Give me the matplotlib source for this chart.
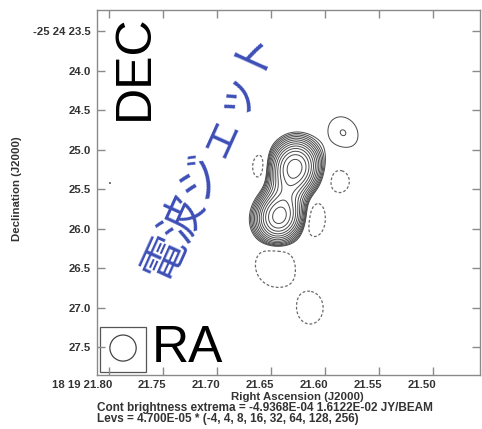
import numpy as np
import matplotlib
matplotlib.use("Agg")
import matplotlib.pyplot as plt
from matplotlib.patches import Ellipse, Rectangle
from matplotlib.transforms import ScaledTranslation

# ---------------- data ----------------
# x tick values (RA seconds, 18h19m) and labels
ra_ticks = [21.80, 21.75, 21.70, 21.65, 21.60, 21.55, 21.50]
ra_labels = ["18 19 21.80", "21.75", "21.70", "21.65", "21.60", "21.55", "21.50"]
# y tick values (Dec arcsec, -25d24m) and labels
dec_ticks = [23.5, 24.0, 24.5, 25.0, 25.5, 26.0, 26.5, 27.0, 27.5]
dec_labels = ["-25 24 23.5", "24.0", "24.5", "25.0", "25.5", "26.0", "26.5", "27.0", "27.5"]

# contour levels
lev_base = 4.700E-05
lev_mult = [-4, 4, 5.66, 8, 11.3, 16, 22.6, 32, 45.3, 64, 90.5, 128, 181, 256]

# source components read from the map (RA s, Dec arcsec, peak in units of lev_base,
# major / minor sigma in arcsec, position angle deg)
comp_ra = [21.6278, 21.6426, 21.6352, 21.5833, 21.7991,
           21.6593, 21.5861, 21.6102, 21.6463, 21.6139]
comp_dec = [25.22, 25.854, 25.54, 24.791, 25.424,
            25.2215, 25.386, 25.88, 26.475, 27.006]
comp_amp = [300, 290, 110, 5.75, 4.3,
            -7, -6, -8, -10.5, -6]
comp_smaj = [0.15, 0.14, 0.20, 0.25, 0.02,
             0.16, 0.176, 0.19, 0.19, 0.225]
comp_smin = [0.13, 0.125, 0.12, 0.21, 0.02,
             0.10, 0.14, 0.12, 0.175, 0.183]
comp_pa = [-10, -20, -17, 30, 0,
           0, 0, 0, 20, 0]

# beam (RA s, Dec arcsec, diameter)
beam_ra, beam_dec = 21.787, 27.513
beam_d_arcsec = 0.33

# ---------------- figure ----------------
W, H = 482, 429
fig = plt.figure(figsize=(W / 100, H / 100), dpi=100)
fig.patch.set_facecolor("white")

ax = fig.add_axes([97 / W, 1 - 375 / H, (480 - 97) / W, (375 - 10) / H])
ax.set_xlim(21.8111, 21.4565)
ax.set_ylim(27.854, 23.234)

# build image from components
asec_per_s = 15 * np.cos(np.deg2rad(25.4))
ra_g = np.linspace(21.4565, 21.8111, 500)
dec_g = np.linspace(23.234, 27.854, 600)
RA, DEC = np.meshgrid(ra_g, dec_g)
img = np.zeros_like(RA)
for r0, d0, a, smj, smn, pa in zip(comp_ra, comp_dec, comp_amp, comp_smaj, comp_smin, comp_pa):
    xe = (RA - r0) * asec_per_s
    yn = -(DEC - d0)
    p = np.deg2rad(pa)
    u = xe * np.sin(p) + yn * np.cos(p)
    v = xe * np.cos(p) - yn * np.sin(p)
    img += a * lev_base * np.exp(-0.5 * ((u / smj) ** 2 + (v / smn) ** 2))

levels = np.array(lev_mult) * lev_base
neg = levels[levels < 0]
pos = levels[levels > 0]
ax.contour(RA, DEC, img, levels=neg, colors="#6a6a6a", linewidths=0.9,
           linestyles=[(0, (2.2, 1.6))])
ax.contour(RA, DEC, img, levels=pos, colors="#484848", linewidths=0.7,
           linestyles="solid")

# beam box and beam
px_ra = 0.05 / 54.0
px_dec = 1.0 / 79.0
ax.add_patch(Rectangle((21.80 - (100 - 109) * px_ra, 23.5 + (327 - 31) * px_dec),
                       -46 * px_ra, 45 * px_dec, fill=False, ec="#555555", lw=0.9))
ax.add_patch(Ellipse((beam_ra, beam_dec), beam_d_arcsec / asec_per_s, beam_d_arcsec,
                     fill=False, ec="#444444", lw=0.9))

# ticks
tick_col = "#8a8a8a"
lab_size = 8.2
ax.set_xticks(ra_ticks)
ax.set_xticklabels(ra_labels)
ax.set_yticks(dec_ticks)
ax.set_yticklabels(dec_labels)
ax.tick_params(axis="both", direction="in", length=6, width=1.0, color=tick_col,
               top=True, right=True, labelsize=lab_size, labelcolor="#333333")
ax.tick_params(axis="x", pad=3.5)
ax.tick_params(axis="y", pad=4.5)
shift = ScaledTranslation(3 / 100, 0, fig.dpi_scale_trans)
for lab in ax.get_xticklabels():
    lab.set_fontfamily("Liberation Sans")
    lab.set_fontweight("bold")
    lab.set_ha("right")
    lab.set_transform(lab.get_transform() + shift)
for lab in ax.get_yticklabels():
    lab.set_fontfamily("Liberation Sans")
    lab.set_fontweight("bold")
for s in ax.spines.values():
    s.set_color(tick_col)
    s.set_linewidth(1.0)

# axis labels and footer text
fkw = dict(family="Liberation Sans", fontweight="bold", color="#333333", fontsize=lab_size)
fig.text(297 / W, 1 - 397 / H, "Right Ascension (J2000)", ha="center", va="center", **fkw)
fig.text(17 / W, 1 - 189 / H, "Declination (J2000)", ha="center", va="center",
         rotation=90, **fkw)
fkw2 = dict(fkw, fontsize=8.5)
fig.text(97 / W, 1 - 408 / H, "Cont brightness extrema = -4.9368E-04 1.6122E-02 JY/BEAM",
         ha="left", va="center", **fkw2)
fig.text(97 / W, 1 - 419 / H, "Levs = 4.700E-05 * (-4, 4, 8, 16, 32, 64, 128, 256)",
         ha="left", va="center", **fkw2)

# overlay annotations
fig.text(135 / W, 1 - 67 / H, "DEC", rotation=90, ha="center", va="center",
         fontsize=36, family="Liberation Sans", color="black")
fig.text(187 / W, 1 - 348 / H, "RA", ha="center", va="center",
         fontsize=37, family="Liberation Sans", color="black")
fig.text(210 / W, 1 - 156 / H, "電波ジェット", rotation=65.7, ha="center", va="center",
         rotation_mode="anchor", fontsize=32, family=["Noto Sans CJK JP", "DejaVu Sans"],
         color="#3d4fb6")

fig.savefig("out.png", dpi=100, facecolor="white")
